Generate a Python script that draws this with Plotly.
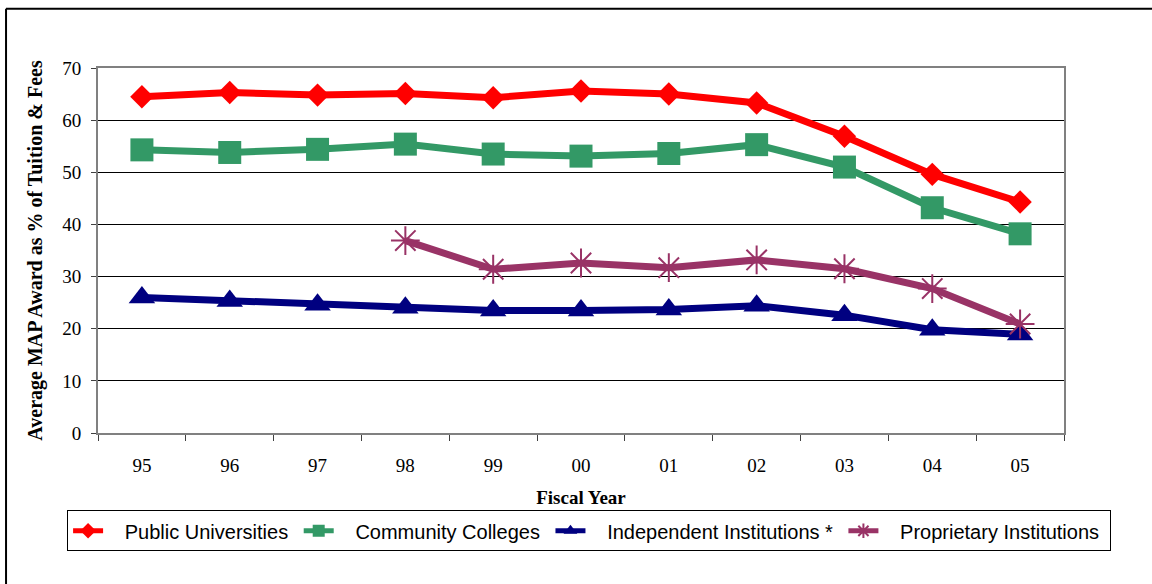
import plotly.graph_objects as go

# Fiscal years on the category axis
years = ["95", "96", "97", "98", "99", "00", "01", "02", "03", "04", "05"]

# Average MAP award as % of tuition & fees, by sector
public_univ = [64.5, 65.3, 64.8, 65.1, 64.3, 65.6, 65.0, 63.3, 56.9, 49.6, 44.3]
community_col = [54.3, 53.8, 54.4, 55.4, 53.5, 53.1, 53.6, 55.3, 51.0, 43.2, 38.2]
independent = [26.0, 25.3, 24.6, 24.0, 23.5, 23.5, 23.7, 24.4, 22.6, 19.8, 18.9]
proprietary = [None, None, None, 36.9, 31.4, 32.6, 31.7, 33.2, 31.5, 27.7, 20.9]

# Legend labels, padded with non-breaking spaces so the entries spread out
PAD_L = "\u00a0" * 3
PAD_R = "\u00a0"


def legend_name(text):
    return PAD_L + text + PAD_R


fig = go.Figure()

fig.add_trace(go.Scatter(
    x=years, y=public_univ, name=legend_name("Public Universities"), mode="lines+markers",
    line=dict(color="#FF0000", width=7),
    marker=dict(symbol="diamond", size=18, color="#FF0000"),
))
fig.add_trace(go.Scatter(
    x=years, y=community_col, name=legend_name("Community Colleges"), mode="lines+markers",
    line=dict(color="#339966", width=7),
    marker=dict(symbol="square", size=23, color="#339966"),
))
fig.add_trace(go.Scatter(
    x=years, y=independent, name=legend_name("Independent Institutions *"), mode="lines+markers",
    line=dict(color="#000080", width=7),
    marker=dict(symbol="triangle-up", size=23, color="#000080"),
))
fig.add_trace(go.Scatter(
    x=years, y=proprietary, name=legend_name("Proprietary Institutions"), mode="lines+markers",
    line=dict(color="#993366", width=7),
    marker=dict(symbol="asterisk-open", size=24, color="#993366",
                line=dict(color="#993366", width=2)),
    connectgaps=False,
))

serif = "Liberation Serif, Times New Roman, serif"

fig.update_layout(
    width=1152, height=584,
    margin=dict(l=98, r=88, t=68, b=151),
    paper_bgcolor="white", plot_bgcolor="white",
    showlegend=True,
    legend=dict(
        orientation="h", x=-0.032, y=-0.268, xanchor="left", yanchor="middle",
        bordercolor="black", borderwidth=1,
        font=dict(family="Liberation Sans, Arial, sans-serif", size=20, color="black"),
        itemsizing="constant", traceorder="normal",
    ),
    xaxis=dict(
        type="category", range=[-0.5, 10.5],
        tickson="boundaries", ticks="outside", ticklen=6, tickcolor="#404040",
        showline=True, linecolor="#808080", linewidth=2, mirror=True,
        showgrid=False, zeroline=False,
        tickfont=dict(family=serif, size=19, color="black"),
        ticklabelstandoff=14,
        title=dict(text="<b>Fiscal Year</b>", font=dict(family=serif, size=19, color="black"),
                   standoff=16),
    ),
    yaxis=dict(
        range=[0, 70], dtick=10, tick0=0,
        ticks="outside", ticklen=5, tickcolor="#404040",
        showline=True, linecolor="#808080", linewidth=2, mirror=True,
        showgrid=True, gridcolor="black", gridwidth=1, zeroline=False,
        tickfont=dict(family=serif, size=19, color="black"),
        ticklabelstandoff=6,
        title=dict(text="<b>Average MAP Award as % of Tuition & Fees</b>",
                   font=dict(family=serif, size=20, color="black"), standoff=14),
    ),
    shapes=[
        # outer frame of the chart (left and top edges)
        dict(type="line", xref="paper", yref="paper",
             x0=-0.0952, x1=-0.0952, y0=1.162, y1=-0.45,
             line=dict(color="black", width=2)),
        dict(type="line", xref="paper", yref="paper",
             x0=-0.0952, x1=1.2, y0=1.162, y1=1.162,
             line=dict(color="black", width=2)),
    ],
)

fig.write_html("out.html")
